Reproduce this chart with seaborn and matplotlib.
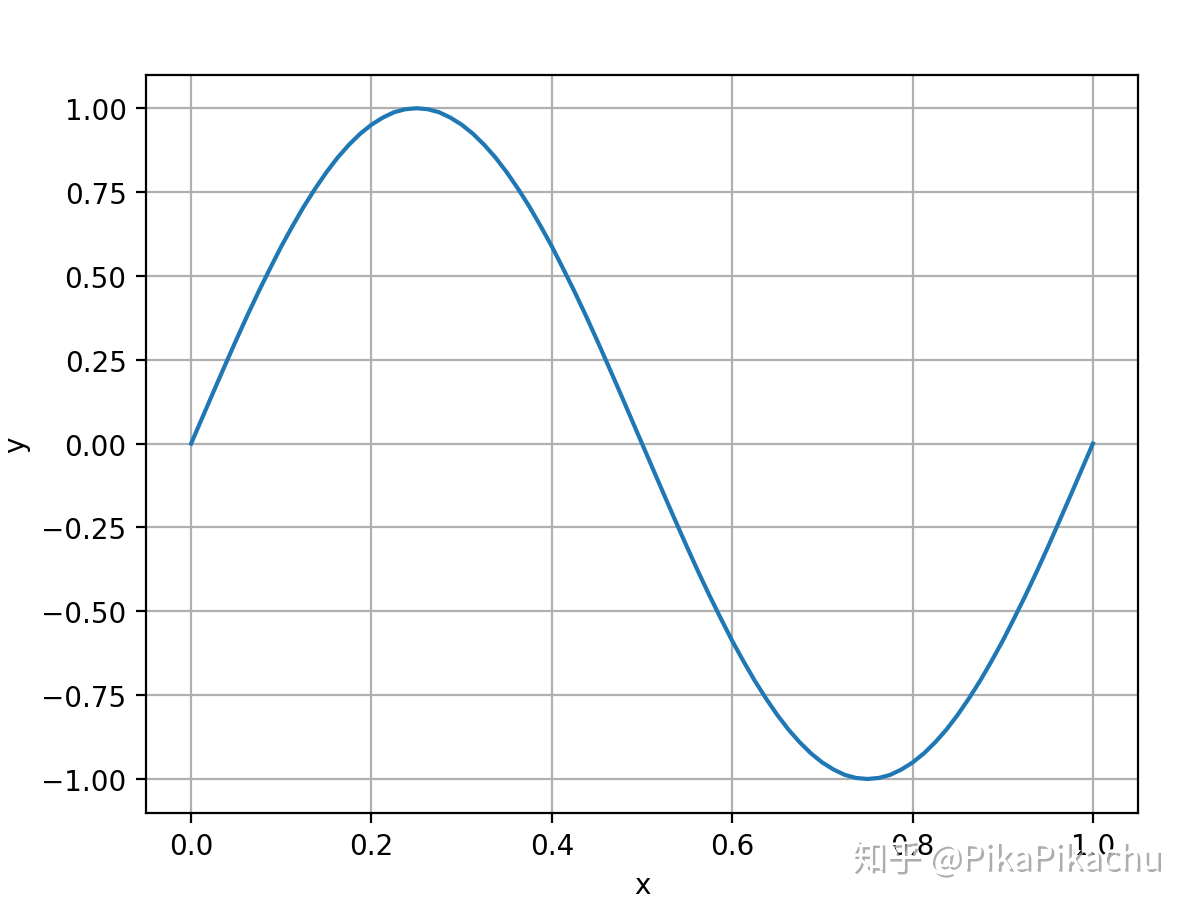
import matplotlib
matplotlib.use("Agg")
import matplotlib.pyplot as plt
import matplotlib.patheffects as pe
import seaborn as sns
import pandas as pd

# values, every 0.0125 along x
x_vals = [0.0, 0.0125, 0.025, 0.0375, 0.05, 0.0625, 0.075, 0.0875, 0.1, 0.1125,
          0.125, 0.1375, 0.15, 0.1625, 0.175, 0.1875, 0.2, 0.2125, 0.225, 0.2375,
          0.25, 0.2625, 0.275, 0.2875, 0.3, 0.3125, 0.325, 0.3375, 0.35, 0.3625,
          0.375, 0.3875, 0.4, 0.4125, 0.425, 0.4375, 0.45, 0.4625, 0.475, 0.4875,
          0.5, 0.5125, 0.525, 0.5375, 0.55, 0.5625, 0.575, 0.5875, 0.6, 0.6125,
          0.625, 0.6375, 0.65, 0.6625, 0.675, 0.6875, 0.7, 0.7125, 0.725, 0.7375,
          0.75, 0.7625, 0.775, 0.7875, 0.8, 0.8125, 0.825, 0.8375, 0.85, 0.8625,
          0.875, 0.8875, 0.9, 0.9125, 0.925, 0.9375, 0.95, 0.9625, 0.975, 0.9875,
          1.0]
y_vals = [0.0, 0.078, 0.156, 0.233, 0.309, 0.383, 0.454, 0.522, 0.588, 0.649,
          0.707, 0.760, 0.809, 0.853, 0.891, 0.924, 0.951, 0.972, 0.988, 0.997,
          1.0, 0.997, 0.988, 0.972, 0.951, 0.924, 0.891, 0.853, 0.809, 0.760,
          0.707, 0.649, 0.588, 0.522, 0.454, 0.383, 0.309, 0.233, 0.156, 0.078,
          0.0, -0.078, -0.156, -0.233, -0.309, -0.383, -0.454, -0.522, -0.588, -0.649,
          -0.707, -0.760, -0.809, -0.853, -0.891, -0.924, -0.951, -0.972, -0.988, -0.997,
          -1.0, -0.997, -0.988, -0.972, -0.951, -0.924, -0.891, -0.853, -0.809, -0.760,
          -0.707, -0.649, -0.588, -0.522, -0.454, -0.383, -0.309, -0.233, -0.156, -0.078,
          0.0]
watermark = "知乎 @PikaPikachu"

df = pd.DataFrame({"x": x_vals, "y": y_vals})

plt.rcParams['font.family'] = ['DejaVu Sans', 'Noto Sans CJK SC']
fig, ax = plt.subplots(figsize=(5.99, 4.56), dpi=200)
fig.subplots_adjust(left=0.1219, right=0.9499, top=0.9170, bottom=0.1080)

sns.lineplot(data=df, x="x", y="y", color="#1f77b4", linewidth=1.5, ax=ax)
ax.set_xlabel("x")
ax.set_ylabel("y")
ax.set_xticks([0.0, 0.2, 0.4, 0.6, 0.8, 1.0])
ax.set_yticks([-1.0, -0.75, -0.5, -0.25, 0.0, 0.25, 0.5, 0.75, 1.0])
ax.set_yticklabels(["\u22121.00", "\u22120.75", "\u22120.50", "\u22120.25", "0.00",
                    "0.25", "0.50", "0.75", "1.00"])
ax.set_xlim(-0.05, 1.05)
ax.set_ylim(-1.1, 1.1)
ax.grid(True, color="#b0b0b0", linewidth=0.8)

# watermark
fig.text(0.84, 0.057, watermark, ha="center", va="center", fontsize=12.5,
         color="white", family=['Noto Sans CJK SC', 'DejaVu Sans'],
         path_effects=[pe.withSimplePatchShadow(offset=(1, -1), shadow_rgbFace="#999999", alpha=0.8),
                       pe.Normal()])

plt.savefig("out.png", dpi=200)
plt.close()
